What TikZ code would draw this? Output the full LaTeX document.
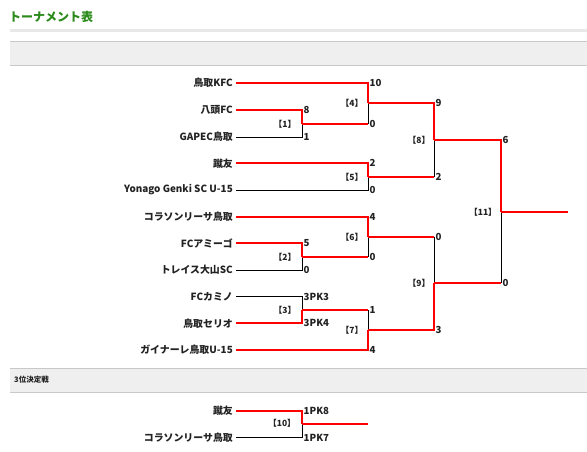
\documentclass[tikz,border=0pt]{standalone}
\usepackage{fontspec}
\setmainfont{Noto Sans CJK JP}
\definecolor{titlegreen}{HTML}{2A8A1A}
\definecolor{bandgray}{HTML}{EFEFEF}
\definecolor{bandline}{HTML}{C8C8C8}
\definecolor{txt}{HTML}{222222}
\begin{document}
\begin{tikzpicture}[x=1pt,y=-1pt,
  win/.style={draw=red, line width=2pt},
  lose/.style={draw=black, line width=0.9pt},
  team/.style={anchor=east, inner xsep=3pt, inner ysep=0pt, text=txt, font=\fontsize{9.9}{10}\selectfont\bfseries},
  score/.style={anchor=west, inner xsep=1.5pt, inner ysep=0pt, text=txt, font=\fontsize{9.7}{10}\selectfont\bfseries},
  mlabel/.style={inner sep=0pt, text=txt, font=\fontsize{8.5}{10}\selectfont\bfseries},
  band/.style={fill=bandgray}]
\useasboundingbox (0,0) rectangle (587,451);
\fill[white] (0,0) rectangle (587,451);
% title
\node[anchor=west, inner sep=0pt, text=titlegreen, font=\fontsize{12}{14}\selectfont\bfseries] (title) at (9,17) {トーナメント表};
\draw[line width=2.5pt, draw=black!9] (10,30.5) -- (587,30.5);
% bands
\fill[band] (10,41) rectangle (587,65);
\draw[bandline, line width=1pt] (10,41) -- (587,41);
\draw[bandline, line width=1pt] (10,65) -- (587,65);
\fill[band] (10,368) rectangle (587,392);
\draw[bandline, line width=1pt] (10,368) -- (587,368);
\draw[bandline, line width=1pt] (10,392) -- (587,392);
\node[anchor=west, inner sep=0pt, text=txt, font=\fontsize{7.5}{9}\selectfont\bfseries] (third) at (14,380) {3位決定戦};
% teams
\node[team] (t1) at (236,83) {鳥取KFC};
\node[team] (t2) at (236,110) {八頭FC};
\node[team] (t3) at (236,137) {GAPEC鳥取};
\node[team] (t4) at (236,163.3) {蹴友};
\node[team] (t5) at (236,190) {Yonago Genki SC U-15};
\node[team] (t6) at (236,216.7) {コラソンリーサ鳥取};
\node[team] (t7) at (236,243.3) {FCアミーゴ};
\node[team] (t8) at (236,270) {トレイス大山SC};
\node[team] (t9) at (236,296.7) {FCカミノ};
\node[team] (t10) at (236,323.3) {鳥取セリオ};
\node[team] (t11) at (236,350) {ガイナーレ鳥取U-15};
\node[team] (u1) at (236,410.7) {蹴友};
\node[team] (u2) at (236,437.7) {コラソンリーサ鳥取};
% junctions
\coordinate (m1) at (302,123.5);
\coordinate (m2) at (302,256.7);
\coordinate (m3) at (302,310);
\coordinate (m4) at (368,103.3);
\coordinate (m5) at (368,176.7);
\coordinate (m6) at (368,236.7);
\coordinate (m7) at (368,330);
\coordinate (m8) at (434,140);
\coordinate (m9) at (434,283.3);
\coordinate (m11) at (501,212.3);
\coordinate (champ) at (568,212.3);
\coordinate (m10) at (302,424.2);
\coordinate (third3) at (368,424.2);
% round 1
\draw[win] (t2.east) -| (m1);
\draw[lose] (t3.east) -| (m1);
\draw[win] (t7.east) -| (m2);
\draw[lose] (t8.east) -| (m2);
\draw[lose] (t9.east) -| (m3);
\draw[win] (t10.east) -| (m3);
% round 2
\draw[win] (t1.east) -| (m4);
\draw[win] (m1) -- (m1 -| m4);
\draw[lose] (m1 -| m4) -- (m4);
\draw[win] (t4.east) -| (m5);
\draw[lose] (t5.east) -| (m5);
\draw[win] (t6.east) -| (m6);
\draw[win] (m2) -- (m2 -| m6);
\draw[lose] (m2 -| m6) -- (m6);
\draw[win] (m3) -- (m3 -| m7);
\draw[lose] (m3 -| m7) -- (m7);
\draw[win] (t11.east) -| (m7);
% semifinals
\draw[win] (m4) -| (m8);
\draw[win] (m5) -- (m5 -| m8);
\draw[lose] (m5 -| m8) -- (m8);
\draw[win] (m6) -- (m6 -| m9);
\draw[lose] (m6 -| m9) -- (m9);
\draw[win] (m7) -| (m9);
% final
\draw[win] (m8) -| (m11);
\draw[win] (m9) -- (m9 -| m11);
\draw[lose] (m9 -| m11) -- (m11);
\draw[win] (m11) -- (champ);
% third place
\draw[win] (u1.east) -| (m10);
\draw[lose] (u2.east) -| (m10);
\draw[win] (m10) -- (third3);
% scores
\node[score] (s2) at (302,110) {8};
\node[score] (s3) at (302,137) {1};
\node[score] (s7) at (302,243.3) {5};
\node[score] (s8) at (302,270) {0};
\node[score] (s9) at (302,296.7) {3PK3};
\node[score] (s10) at (302,323.3) {3PK4};
\node[score] (s1) at (368,83) {10};
\node[score] (sm1) at (368,123.5) {0};
\node[score] (s4) at (368,163.3) {2};
\node[score] (s5) at (368,190) {0};
\node[score] (s6) at (368,216.7) {4};
\node[score] (sm2) at (368,256.7) {0};
\node[score] (sm3) at (368,310) {1};
\node[score] (s11) at (368,350) {4};
\node[score] (sm4) at (434,103.3) {9};
\node[score] (sm5) at (434,176.7) {2};
\node[score] (sm6) at (434,236.7) {0};
\node[score] (sm7) at (434,330) {3};
\node[score] (sm8) at (501,140) {6};
\node[score] (sm9) at (501,283.3) {0};
\node[score] (su1) at (302,410.7) {1PK8};
\node[score] (su2) at (302,437.7) {1PK7};
% match labels
\node[mlabel] (l1) at (285,124) {【1】};
\node[mlabel] (l2) at (285,257) {【2】};
\node[mlabel] (l3) at (285,310) {【3】};
\node[mlabel] (l4) at (352,103) {【4】};
\node[mlabel] (l5) at (352,177) {【5】};
\node[mlabel] (l6) at (352,237) {【6】};
\node[mlabel] (l7) at (352,330) {【7】};
\node[mlabel] (l8) at (419,140) {【8】};
\node[mlabel] (l9) at (419,283) {【9】};
\node[mlabel] (l11) at (483,212) {【11】};
\node[mlabel] (l10) at (282,423.5) {【10】};
\end{tikzpicture}
\end{document}
